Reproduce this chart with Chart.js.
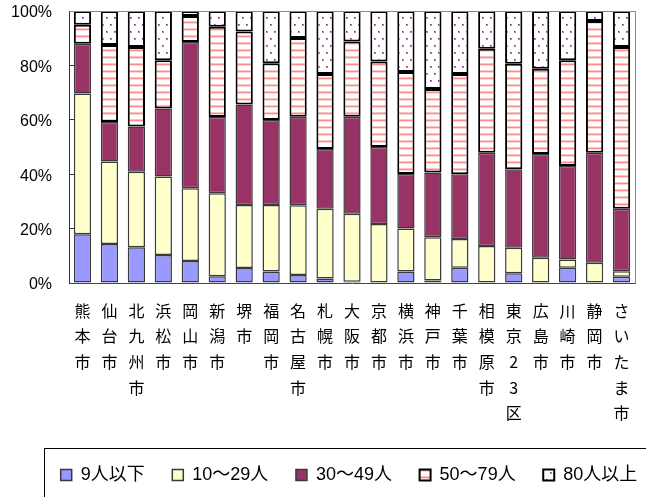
<!DOCTYPE html>
<html>
<head>
<meta charset="utf-8">
<script src="https://cdn.jsdelivr.net/npm/chart.js@4/dist/chart.umd.min.js"></script>
<style>
html,body{margin:0;padding:0;background:#fff;overflow:hidden}
#wrap{width:646px;height:497px;position:relative}
canvas{display:block}
</style>
</head>
<body>
<div id="wrap"><canvas id="c" width="646" height="497" style="width:646px;height:497px"></canvas></div>
<script>
// ---- data ----
const categories = ['熊本市','仙台市','北九州市','浜松市','岡山市','新潟市','堺市','福岡市','名古屋市','札幌市','大阪市','京都市','横浜市','神戸市','千葉市','相模原市','東京23区','広島市','川崎市','静岡市','さいたま市'];
const seriesNames = ['9人以下','10～29人','30～49人','50～79人','80人以上'];
const under9   = [17.9,14.3,13.1,10.3, 8.1, 2.5, 5.5, 4.2, 2.9, 1.7, 0.5, 0.0, 4.2, 0.9, 5.6, 0.0, 3.6, 0.0, 5.6, 0.0, 2.3];
const from10   = [51.8,30.4,27.8,28.9,26.7,30.5,23.2,24.5,25.7,25.6,25.0,21.7,15.8,15.9,10.6,13.6, 9.4, 9.3, 3.0, 7.4, 2.0];
const from30   = [18.3,14.5,16.6,25.0,53.8,28.0,36.9,31.2,32.5,22.0,35.6,28.3,20.1,23.8,23.8,34.3,28.8,38.1,34.4,40.5,23.0];
const from50   = [ 6.9,28.3,29.3,17.7, 9.6,33.2,26.9,20.9,29.0,27.5,27.7,31.4,37.5,30.7,36.8,38.2,38.8,31.4,38.9,48.4,59.5];
const over80   = [ 5.1,12.5,13.2,18.1, 1.8, 5.8, 7.5,19.2, 9.9,23.2,11.2,18.6,22.4,28.7,23.2,13.9,19.4,21.2,18.1, 3.7,13.2];
const yTickValues = [0,20,40,60,80,100];

// ---- patterns ----
function stripePattern(){
  const c = document.createElement('canvas'); c.width = 4; c.height = 7;
  const g = c.getContext('2d');
  g.fillStyle = '#ffffff'; g.fillRect(0,0,4,7);
  g.fillStyle = '#ffc4c4'; g.fillRect(0,0,4,1);
  g.fillStyle = '#ff8c8c'; g.fillRect(0,1,4,1);
  g.fillStyle = '#ffd6d6'; g.fillRect(0,2,4,1);
  return g.createPattern(c,'repeat');
}
function dotPattern(){
  const c = document.createElement('canvas'); c.width = 8; c.height = 14;
  const g = c.getContext('2d');
  g.fillStyle = '#ffffff'; g.fillRect(0,0,8,14);
  g.fillStyle = '#b080b0'; g.fillRect(2,3,2,2); g.fillRect(6,10,2,2);
  g.fillStyle = '#7a2a7a'; g.fillRect(2,3,1,1); g.fillRect(6,10,1,1);
  return g.createPattern(c,'repeat');
}

const FONT_LATIN = "'Liberation Sans', Arial, sans-serif";
const FONT_MIX = "'Liberation Sans', 'Noto Sans CJK JP', sans-serif";
const FONT_CJK = "'Noto Sans CJK JP', sans-serif";

const frameAndLegend = {
  id: 'frameAndLegend',
  afterLayout(chart){
    const lg = chart.legend;
    if (!lg) return;
    const P = lg.options.labels.padding;
    lg.left = 60.7 - P; lg.right = 2000; lg.width = lg.right - lg.left;
    lg.top = 475 - P - 9; lg.bottom = 700; lg.height = lg.bottom - lg.top;
  },
  afterDatasetsDraw(chart){
    const {ctx, chartArea: a} = chart;
    ctx.save();
    ctx.strokeStyle = '#888'; ctx.lineWidth = 1;
    ctx.beginPath();
    ctx.moveTo(Math.round(a.left) + 0.5, Math.round(a.top) + 0.5);
    ctx.lineTo(Math.round(a.right) + 0.5, Math.round(a.top) + 0.5);
    ctx.lineTo(Math.round(a.right) + 0.5, Math.round(a.bottom) + 0.5);
    ctx.stroke();
    ctx.restore();
  },
  afterDraw(chart){
    const ctx = chart.ctx;
    ctx.save();
    ctx.strokeStyle = '#000'; ctx.lineWidth = 1;
    ctx.strokeRect(44.5, 448.5, 800, 200);
    ctx.restore();
  }
};

const ds = (label, data, bg, bc, bw) => ({
  label, data, backgroundColor: bg, borderColor: bc, borderWidth: bw, borderSkipped: false,
  barPercentage: 0.64, categoryPercentage: 1.0
});

new Chart(document.getElementById('c'), {
  type: 'bar',
  data: {
    labels: categories.map(c => Array.from(c)),
    datasets: [
      ds(seriesNames[0], under9, '#9999ff', '#3a3a3a', 1.5),
      ds(seriesNames[1], from10, '#ffffcc', '#3a3a3a', 1.5),
      ds(seriesNames[2], from30, '#993366', '#3a3a3a', 1.5),
      ds(seriesNames[3], from50, stripePattern(), '#000000', 2),
      ds(seriesNames[4], over80, dotPattern(), '#000000', 2)
    ]
  },
  options: {
    responsive: false,
    animation: false,
    devicePixelRatio: 1,
    layout: { padding: { top: 11, left: 0, right: 0, bottom: 0 } },
    scales: {
      x: {
        stacked: true,
        grid: { display: false, drawTicks: false },
        border: { display: true, color: '#444', width: 1 },
        ticks: {
          autoSkip: false, maxRotation: 0, minRotation: 0, padding: 15, color: '#000',
          font: { family: FONT_CJK, size: 16, lineHeight: 1.6 }
        },
        afterFit(s){ s.height = 174; }
      },
      y: {
        stacked: true, min: 0, max: 100,
        afterBuildTicks(s){ s.ticks = yTickValues.map(v => ({ value: v })); },
        ticks: {
          callback: v => v + '%', padding: 23, labelOffset: 2, color: '#000',
          font: { family: FONT_LATIN, size: 16 }
        },
        grid: { display: true, drawOnChartArea: false, drawTicks: true, tickLength: -6, color: '#333' },
        border: { display: true, color: '#333', width: 1 },
        afterFit(s){ s.width = 69; s.paddingTop = 10; s.paddingBottom = 0; }
      },
      y2: {
        position: 'right', min: 0, max: 100,
        grid: { display: false }, ticks: { display: false },
        border: { display: false },
        afterFit(s){ s.width = 11; s.paddingTop = 0; s.paddingBottom = 0; }
      }
    },
    plugins: {
      tooltip: { enabled: false },
      legend: {
        display: true, position: 'bottom', align: 'start', maxHeight: 40,
        labels: {
          boxWidth: 11, boxHeight: 11, padding: 27.6, color: '#000',
          font: { family: FONT_MIX, size: 18 }
        }
      }
    }
  },
  plugins: [frameAndLegend]
});
</script>
</body>
</html>
